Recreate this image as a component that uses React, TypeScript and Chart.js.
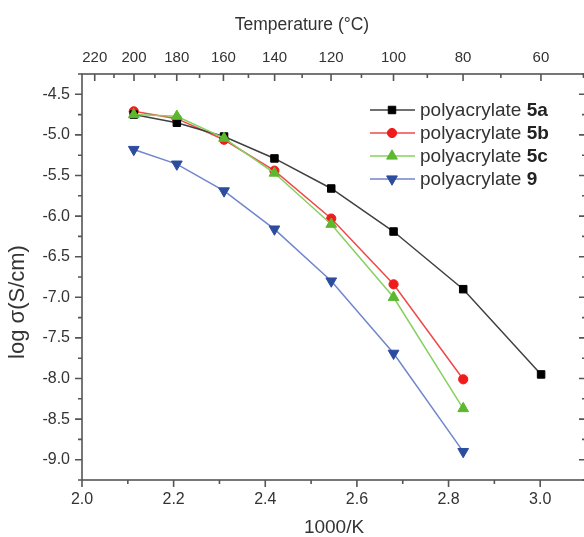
import React, { useEffect, useRef } from 'react';
import { Chart, registerables } from 'chart.js';

Chart.register(...registerables);

// ---- data ----
const temperaturesC = [200, 180, 160, 140, 120, 100, 80, 60];
const inverseK = [2.113, 2.207, 2.31, 2.42, 2.544, 2.68, 2.832, 3.002];
const series5a = [-4.75, -4.85, -5.02, -5.29, -5.66, -6.19, -6.9, -7.95];
const series5b = [-4.71, -4.8, -5.06, -5.44, -6.03, -6.84, -8.01];
const series5c = [-4.75, -4.77, -5.04, -5.47, -6.1, -7.0, -8.37];
const series9 = [-5.18, -5.36, -5.69, -6.16, -6.8, -7.69, -8.9];
const seriesIds = ['5a', '5b', '5c', '9'];
const topTickTemps = [220, 210, 200, 190, 180, 170, 160, 150, 140, 130, 120, 110, 100, 90, 80, 70, 60, 50];
const topLabelTemps = [220, 200, 180, 160, 140, 120, 100, 80, 60];
const topTitle = 'Temperature (°C)';
const yTitle = 'log σ(S/cm)';
const xTitle = '1000/K';

const FONT = "'Liberation Sans', Arial, Helvetica, sans-serif";
const TEXT = '#333333';
const AXIS = '#555555';

const toPoints = (vals: number[]) => vals.map((y, i) => ({ x: inverseK[i], y }));

function drawMarker(ctx: CanvasRenderingContext2D, style: string, rot: number, x: number, y: number, r: number, color: string) {
  ctx.save();
  ctx.fillStyle = color;
  ctx.strokeStyle = color;
  ctx.lineWidth = 1;
  ctx.beginPath();
  if (style === 'rect') {
    const s = Math.SQRT1_2 * r;
    ctx.rect(x - s, y - s, 2 * s, 2 * s);
  } else if (style === 'circle') {
    ctx.arc(x, y, r, 0, Math.PI * 2);
  } else {
    let a = (rot * Math.PI) / 180;
    ctx.moveTo(x + Math.sin(a) * r, y - Math.cos(a) * r);
    a += (2 * Math.PI) / 3;
    ctx.lineTo(x + Math.sin(a) * r, y - Math.cos(a) * r);
    a += (2 * Math.PI) / 3;
    ctx.lineTo(x + Math.sin(a) * r, y - Math.cos(a) * r);
    ctx.closePath();
  }
  ctx.fill();
  ctx.stroke();
  ctx.restore();
}

const framePlugin = {
  id: 'frameTicks',
  afterDraw(chart: any) {
    const { ctx, chartArea } = chart;
    const { left, right, top, bottom } = chartArea;
    const xs = chart.scales.x;
    const ys = chart.scales.y;
    const xt = chart.scales.x2;
    ctx.save();
    ctx.strokeStyle = AXIS;
    ctx.lineWidth = 1.6;
    ctx.strokeRect(left, top, right - left, bottom - top);
    ctx.beginPath();
    xs.ticks.forEach((t: any) => {
      const p = xs.getPixelForValue(t.value);
      const major = !!t.label;
      ctx.moveTo(p, bottom);
      ctx.lineTo(p, bottom + (major ? 7 : 4));
    });
    ys.ticks.forEach((t: any) => {
      const p = ys.getPixelForValue(t.value);
      const major = !!t.label;
      ctx.moveTo(left, p);
      ctx.lineTo(left - (major ? 7 : 4), p);
      ctx.moveTo(right, p);
      ctx.lineTo(right - (major ? 7 : 4), p);
    });
    xt.ticks.forEach((t: any) => {
      const p = xt.getPixelForValue(t.value);
      const major = !!t.label;
      ctx.moveTo(p, top);
      ctx.lineTo(p, top + (major ? 7 : 4));
    });
    ctx.stroke();

    // axis titles (top and left) placed as in the figure
    ctx.fillStyle = TEXT;
    ctx.textAlign = 'center';
    ctx.textBaseline = 'middle';
    ctx.font = `17.5px ${FONT}`;
    ctx.fillText(topTitle, left + 220, top - 49);
    ctx.save();
    ctx.translate(left - 64, top + 228);
    ctx.rotate(-Math.PI / 2);
    ctx.font = `22px ${FONT}`;
    ctx.fillText(yTitle, 0, 0);
    ctx.restore();
    ctx.restore();
  },
};

const legendPlugin = {
  id: 'customLegend',
  afterDraw(chart: any) {
    const ctx = chart.ctx as CanvasRenderingContext2D;
    const ca = chart.chartArea;
    const x0 = ca.left + 288;
    const y0 = ca.top + 36;
    chart.data.datasets.forEach((ds: any, i: number) => {
      const y = y0 + i * 23;
      ctx.save();
      ctx.strokeStyle = ds.borderColor;
      ctx.lineWidth = 1.5;
      ctx.beginPath();
      ctx.moveTo(x0, y);
      ctx.lineTo(x0 + 45, y);
      ctx.stroke();
      ctx.restore();
      drawMarker(ctx, ds.pointStyle, ds.pointRotation || 0, x0 + 22, y, ds.pointRadius, ds.pointBackgroundColor);
      ctx.save();
      ctx.textBaseline = 'middle';
      ctx.textAlign = 'left';
      ctx.fillStyle = TEXT;
      ctx.font = `19px ${FONT}`;
      const base = 'polyacrylate ';
      ctx.fillText(base, x0 + 50, y + 1);
      const w = ctx.measureText(base).width;
      ctx.font = `bold 19px ${FONT}`;
      ctx.fillStyle = '#222222';
      ctx.fillText(seriesIds[i], x0 + 50 + w, y + 1);
      ctx.restore();
    });
  },
};

export default function App() {
  const ref = useRef<HTMLCanvasElement | null>(null);
  useEffect(() => {
    if (!ref.current) return;
    const mk = (label: string, vals: number[], line: string, fill: string, style: string, radius: number, order: number, rot = 0) => ({
      label,
      data: toPoints(vals),
      showLine: true,
      borderColor: line,
      borderWidth: 1.5,
      backgroundColor: fill,
      pointBackgroundColor: fill,
      pointBorderColor: fill,
      pointBorderWidth: 1,
      pointStyle: style,
      pointRotation: rot,
      pointRadius: radius,
      tension: 0,
      order,
    });
    const chart = new Chart(ref.current, {
      type: 'scatter',
      data: {
        datasets: [
          mk('polyacrylate 5a', series5a, '#404040', '#000000', 'rect', 5.3, 1),
          mk('polyacrylate 5b', series5b, '#f04848', '#ee1c1c', 'circle', 4.6, 2),
          mk('polyacrylate 5c', series5c, '#86d060', '#5cb82e', 'triangle', 6.2, 0),
          mk('polyacrylate 9', series9, '#7086cc', '#2c4c9e', 'triangle', 6.2, 3, 180),
        ] as any,
      },
      options: {
        responsive: false,
        animation: false,
        layout: { padding: { left: 0, right: 14, top: 0, bottom: 0 } },
        plugins: { legend: { display: false }, tooltip: { enabled: false } },
        scales: {
          x: {
            type: 'linear',
            position: 'bottom',
            min: 2.0,
            max: 3.1,
            grid: { display: false, drawTicks: false },
            border: { display: false },
            ticks: {
              stepSize: 0.1,
              autoSkip: false,
              maxRotation: 0,
              padding: 10,
              color: TEXT,
              font: { family: FONT, size: 16 },
              callback: (v: any) => (Math.abs(Math.round(Number(v) * 10)) % 2 === 0 ? Number(v).toFixed(1) : ''),
            },
            title: { display: true, text: xTitle, color: TEXT, font: { family: FONT, size: 19, lineHeight: 1 }, padding: { top: 0, bottom: 0 } },
            afterFit: (s: any) => { s.height = 57; },
          },
          x2: {
            type: 'linear',
            position: 'top',
            min: 2.0,
            max: 3.1,
            grid: { display: false, drawTicks: false },
            border: { display: false },
            afterBuildTicks: (s: any) => {
              s.ticks = topTickTemps.map((t) => ({ value: 1000 / (t + 273.15) }));
            },
            ticks: {
              autoSkip: false,
              maxRotation: 0,
              padding: 7,
              color: TEXT,
              font: { family: FONT, size: 15 },
              callback: (v: any) => {
                const t = Math.round(1000 / Number(v) - 273.15);
                return topLabelTemps.includes(t) ? String(t) : '';
              },
            },
            title: { display: false },
            afterFit: (s: any) => { s.height = 74; },
          },
          y: {
            type: 'linear',
            position: 'left',
            min: -9.25,
            max: -4.25,
            grid: { display: false, drawTicks: false },
            border: { display: false },
            ticks: {
              stepSize: 0.25,
              autoSkip: false,
              padding: 12,
              color: TEXT,
              font: { family: FONT, size: 16 },
              callback: (v: any) => (Math.abs(Math.round(Number(v) * 4)) % 2 === 0 ? Number(v).toFixed(1) : ''),
            },
            title: { display: false },
            afterFit: (s: any) => { s.width = 82; },
          },
        },
      } as any,
      plugins: [framePlugin, legendPlugin],
    });
    return () => chart.destroy();
  }, []);

  return (
    <div style={{ position: 'absolute', left: 0, top: 0, width: 584, height: 537, overflow: 'hidden', background: '#fff' }}>
      <canvas ref={ref} width={600} height={537} style={{ width: 600, height: 537, display: 'block' }} />
    </div>
  );
}
